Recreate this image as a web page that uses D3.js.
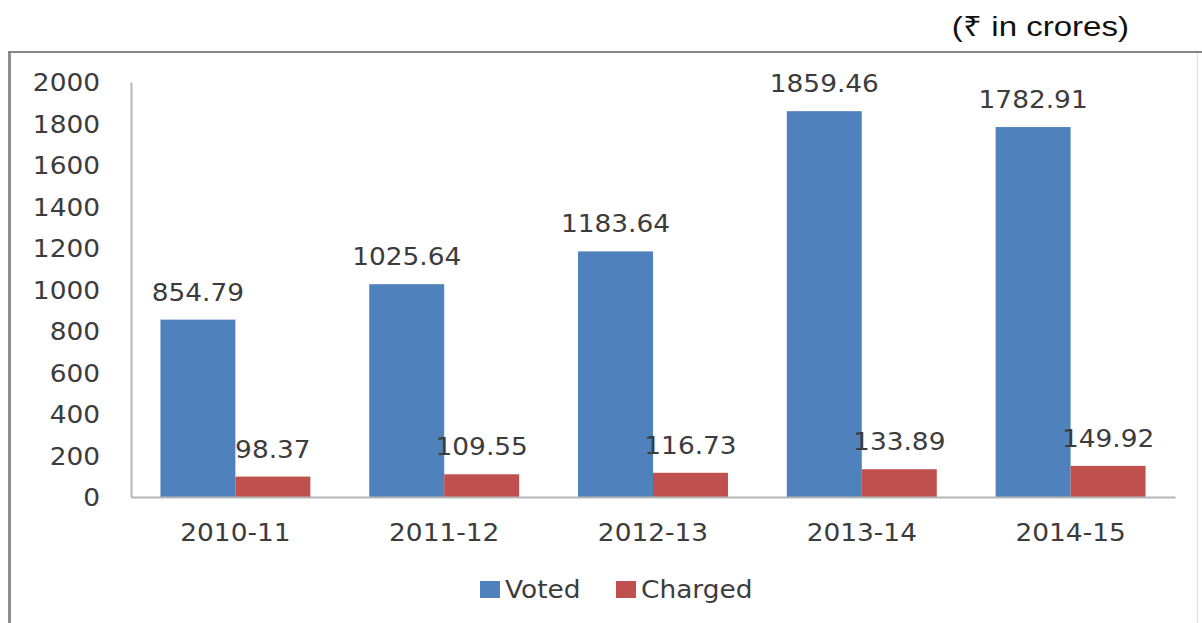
<!DOCTYPE html>
<html>
<head>
<meta charset="utf-8">
<script src="https://cdn.jsdelivr.net/npm/d3@7"></script>
<style>
  html, body { margin: 0; padding: 0; background: #fff; }
  svg { display: block; }
</style>
</head>
<body>
<svg id="chart" width="1202" height="623"></svg>
<script>
// Grant amounts (₹ in crores) by year, split into voted and charged expenditure
const years = ["2010-11", "2011-12", "2012-13", "2013-14", "2014-15"];
const voted = [854.79, 1025.64, 1183.64, 1859.46, 1782.91];
const charged = [98.37, 109.55, 116.73, 133.89, 149.92];
const seriesNames = ["Voted", "Charged"];
const seriesColors = ["#4F81BD", "#C0504D"];
const yTicks = [0, 200, 400, 600, 800, 1000, 1200, 1400, 1600, 1800, 2000];

const svg = d3.select("#chart");
const W = 1202, H = 623;
const font = "'DejaVu Sans', sans-serif";
const textColor = "#3c3c3c";
const sx = 1.1; // horizontal stretch applied to chart text

const plot = { left: 131, right: 1175, top: 82, bottom: 497 };

// outer chart frame
svg.append("line").attr("x1", 9.5).attr("x2", 9.5).attr("y1", 51).attr("y2", H)
  .attr("stroke", "#8f8f8f").attr("stroke-width", 3);
svg.append("line").attr("x1", 8).attr("x2", W).attr("y1", 52).attr("y2", 52)
  .attr("stroke", "#858585").attr("stroke-width", 2);
svg.append("line").attr("x1", 1197.5).attr("x2", 1197.5).attr("y1", 53).attr("y2", H)
  .attr("stroke", "#e6e6e6").attr("stroke-width", 1.5);

// unit note
svg.append("text")
  .attr("transform", "translate(1129,36) scale(1.18,1)")
  .attr("text-anchor", "end")
  .attr("font-family", "'Liberation Sans', Arial, sans-serif")
  .attr("font-weight", 400)
  .attr("font-size", 28)
  .attr("fill", "#111")
  .text("(₹ in crores)");

// scales
const x0 = d3.scaleBand().domain(years).range([plot.left, plot.right])
  .paddingInner(0.282).paddingOuter(0.141);
const x1 = d3.scaleBand().domain(seriesNames).range([0, x0.bandwidth()]);
const y = d3.scaleLinear().domain([0, 2000]).range([plot.bottom, plot.top]);

// y axis
const yAxis = svg.append("g")
  .attr("transform", `translate(${plot.left},0)`)
  .call(d3.axisLeft(y).tickValues(yTicks).tickFormat(d3.format("d")).tickSize(0).tickSizeOuter(0));
yAxis.select(".domain").attr("stroke", "#b5b5b5").attr("stroke-width", 2);
yAxis.selectAll(".tick text")
  .attr("x", -31 / sx)
  .attr("dy", "0.36em")
  .attr("transform", `scale(${sx},1)`)
  .attr("font-family", font).attr("font-size", 24).attr("fill", textColor);

// bars
const rows = years.map((yr, i) => ({ year: yr, values: [voted[i], charged[i]] }));
const groups = svg.append("g").selectAll("g").data(rows).join("g")
  .attr("transform", d => `translate(${x0(d.year)},0)`);

groups.selectAll("rect")
  .data(d => d.values.map((v, j) => ({ name: seriesNames[j], value: v, color: seriesColors[j] })))
  .join("rect")
  .attr("x", d => x1(d.name))
  .attr("width", x1.bandwidth())
  .attr("y", d => y(d.value))
  .attr("height", d => y(0) - y(d.value))
  .attr("fill", d => d.color);

// value labels
groups.selectAll("text.val")
  .data(d => d.values.map((v, j) => ({ name: seriesNames[j], value: v })))
  .join("text")
  .attr("class", "val")
  .attr("transform", d => `translate(${x1(d.name) + x1.bandwidth() / 2},${y(d.value) - 19}) scale(${sx},1)`)
  .attr("text-anchor", "middle")
  .attr("font-family", font).attr("font-size", 24).attr("fill", textColor)
  .text(d => d.value.toFixed(2));

// x axis
const xAxis = svg.append("g")
  .attr("transform", `translate(0,${plot.bottom})`)
  .call(d3.axisBottom(x0).tickSize(0).tickSizeOuter(0));
xAxis.select(".domain").attr("stroke", "#b5b5b5").attr("stroke-width", 2);
xAxis.selectAll(".tick text")
  .attr("y", 0).attr("dy", 0)
  .attr("transform", `translate(0,44) scale(${sx},1)`)
  .attr("font-family", font).attr("font-size", 24).attr("fill", textColor);

// legend
const legendX = [480, 616];
const legend = svg.append("g").selectAll("g").data(seriesNames).join("g")
  .attr("transform", (d, i) => `translate(${legendX[i]},0)`);
legend.append("rect")
  .attr("x", 0).attr("y", 581).attr("width", 20).attr("height", 17)
  .attr("fill", (d, i) => seriesColors[i]);
legend.append("text")
  .attr("transform", `translate(25,598) scale(${sx},1)`)
  .attr("font-family", font).attr("font-size", 24).attr("fill", textColor)
  .text(d => d);
</script>
</body>
</html>
